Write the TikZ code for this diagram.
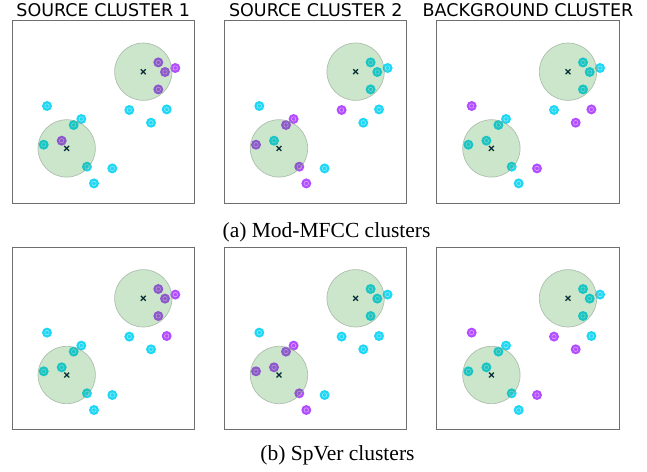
\documentclass[tikz,border=0pt]{standalone}
\usepackage{fontspec}
\setmainfont{Liberation Serif}
\newfontfamily\titlefont{DejaVu Sans}
\definecolor{ptcyan}{RGB}{30,215,245}
\definecolor{ptpurple}{RGB}{178,78,255}
\definecolor{clgreen}{RGB}{0,128,0}
\definecolor{cledge}{RGB}{150,170,150}
\definecolor{boxgray}{RGB}{110,110,110}
\definecolor{crossnavy}{RGB}{20,25,80}
\tikzset{
  panelbox/.style={draw=boxgray, line width=0.9pt},
  ptdot/.style={fill=#1},
  ptring/.style={draw=white, draw opacity=0.55, line width=0.5pt},
  clusterdisc/.style={fill=clgreen, fill opacity=0.2, draw=cledge, draw opacity=0.7, line width=0.7pt},
  crossgreen/.style={draw=clgreen!70, line width=1.6pt},
  crossmark/.style={draw=crossnavy, line width=0.9pt},
  paneltitle/.style={font=\titlefont\fontsize{17.5}{20}\selectfont, anchor=base, inner sep=0pt},
  captiontext/.style={font=\fontsize{21.5}{25}\selectfont, anchor=base, inner sep=0pt}
}
\newcommand\clcross[2]{%
  \draw[crossgreen] (#1-2.4,#2-2.4) -- (#1+2.4,#2+2.4) (#1-2.4,#2+2.4) -- (#1+2.4,#2-2.4);
  \draw[crossmark] (#1-2.4,#2-2.4) -- (#1+2.4,#2+2.4) (#1-2.4,#2+2.4) -- (#1+2.4,#2-2.4);
}
% #1 x offset, #2 y offset, #3 colour codes (1 = purple, 0 = cyan)
\newcommand\drawpanel[3]{%
  \begin{scope}[shift={(#1,#2)}]
    \draw[panelbox] (0,0) rectangle (182.3,182.3);
    \foreach \px/\py [count=\i from 0] in {146.3/41.7, 153/51.3, 163.3/47.3, 146.3/68.7,
        35/85.3, 117.3/89.3, 154.7/88.7, 139/102, 69.3/98.3, 61.7/104.3,
        49.7/120, 31.7/124, 75/146, 100.3/147.7, 82/162.7} {
      \pgfmathtruncatemacro\cc{{#3}[\i]}
      \ifnum\cc=1 \def\pc{ptpurple}\else\def\pc{ptcyan}\fi
      \fill[ptdot=\pc] (\px,\py) circle (5pt);
      \draw[ptring] (\px,\py) circle (2.2pt);
    }
    \filldraw[clusterdisc] (131.3,51) circle (28.7pt);
    \filldraw[clusterdisc] (54.7,127.7) circle (28.7pt);
    \clcross{131.3}{51}
    \clcross{54.7}{127.7}
  \end{scope}}
\begin{document}
\begin{tikzpicture}[x=1pt,y=-1pt]
  \useasboundingbox (0,0) rectangle (647,471);
  \drawpanel{12}{20.7}{1,1,1,1,0,0,0,0,0,0,1,0,0,0,0}
  \drawpanel{224.3}{20.7}{0,0,0,0,0,1,0,0,1,1,0,1,1,0,1}
  \drawpanel{436.7}{20.7}{0,0,0,0,1,0,1,1,0,0,0,0,0,1,0}
  \drawpanel{12}{247.3}{1,1,1,1,0,0,1,0,0,0,0,0,0,0,0}
  \drawpanel{224.3}{247.3}{0,0,0,0,0,0,0,0,1,1,1,1,1,0,1}
  \drawpanel{436.7}{247.3}{0,0,0,0,1,1,0,1,0,0,0,0,0,1,0}
  \node[paneltitle] (t1) at (103.2,16.7) {SOURCE CLUSTER 1};
  \node[paneltitle] (t2) at (315.8,16.7) {SOURCE CLUSTER 2};
  \node[paneltitle] (t3) at (528,16.7) {BACKGROUND CLUSTER};
  \node[captiontext] (ca) at (326.5,237.7) {(a) Mod-MFCC clusters};
  \node[captiontext] (cb) at (337.5,460.7) {(b) SpVer clusters};
\end{tikzpicture}
\end{document}
